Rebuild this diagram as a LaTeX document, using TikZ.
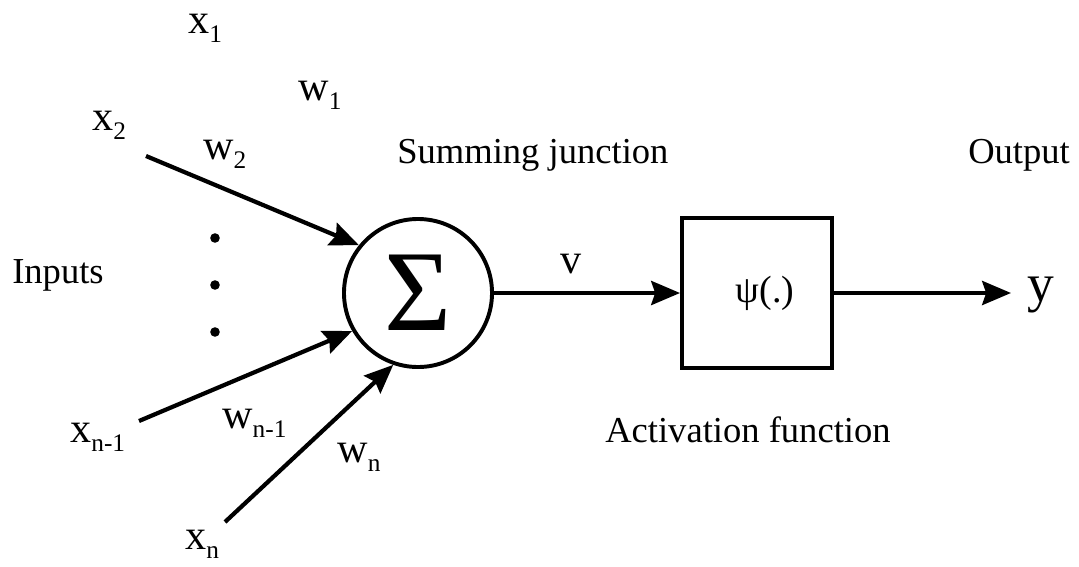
\documentclass[tikz,border=0pt]{standalone}
\usepackage{fontspec}
\setmainfont{Liberation Serif}
\usetikzlibrary{arrows.meta,positioning}
\newcommand{\lowsub}[1]{\raisebox{-7pt}{\fontsize{18}{18}\selectfont #1}}
\tikzset{
  neuronarrow/.style={-{Stealth[length=0.72cm,width=0.6cm,inset=0.1cm]}, line width=3pt},
  neuronlabel/.style={anchor=base west, inner sep=0pt, font=\fontsize{26}{30}\selectfont},
  weightlabel/.style={neuronlabel, font=\fontsize{30}{34}\selectfont},
  sumnode/.style={
    circle,
    draw,
    line width=2.8pt,
    minimum size=3.7cm,
    inner sep=0pt,
    font=\fontsize{82}{84}\selectfont
  },
  actbox/.style={
    rectangle,
    draw,
    line width=2.8pt,
    minimum size=3.75cm,
    inner sep=0pt,
    font=\fontsize{27}{30}\selectfont
  },
  dotnode/.style={circle, fill, inner sep=0pt, minimum size=0.24cm}
}

\begin{document}
\begin{tikzpicture}[x=0.025cm, y=-0.025cm]
  \useasboundingbox (0,0) rectangle (1079,566);

  \node[sumnode] (sum) at (418,293) {Σ};
  \node[actbox, right=4.65cm of sum] (act) {\hspace{0.4cm}ψ(.)};

  % input labels and weights
  \node[weightlabel] (x1) at (188,33) {x\lowsub{1}};
  \node[weightlabel] (w1) at (298,100) {w\lowsub{1}};
  \node[weightlabel] (x2) at (92,130) {x\lowsub{2}};
  \node[weightlabel] (w2) at (203,159) {w\lowsub{2}};
  \node[weightlabel] (xn1) at (70,442) {x\lowsub{n-1}};
  \node[weightlabel] (wn1) at (222,428) {w\lowsub{n-1}};
  \node[weightlabel] (wn) at (337,462) {w\lowsub{n}};
  \node[weightlabel] (xn) at (185,549) {x\lowsub{n}};
  \foreach \yy/\nm in {238/a,285/b,332/c}
    \node[dotnode] (dot\nm) at (215,\yy) {};

  \node[neuronlabel] (inputs) at (12,283) {Inputs};
  \node[neuronlabel] (sumtxt) at (397,163) {Summing junction};
  \node[neuronlabel] (outtxt) at (968,163) {Output};
  \node[neuronlabel] (acttxt) at (605,442) {Activation function};
  \node[weightlabel] (v) at (560,273) {v};
  \node[neuronlabel, font=\fontsize{38}{42}\selectfont] (y) at (1027,301) {y};

  \coordinate (in2) at (146,156);
  \coordinate (inn1) at (139,421);
  \coordinate (inn) at (225,522);

  \draw[neuronarrow] (in2) -- (sum.141);
  \draw[neuronarrow] (inn1) -- (sum.210);
  \draw[neuronarrow] (inn) -- (sum.251);
  \draw[neuronarrow] (sum.east) -- (act.west);
  \draw[neuronarrow, shorten >=0.4cm] (act.east) -- (act.east -| y.west);
\end{tikzpicture}
\end{document}
